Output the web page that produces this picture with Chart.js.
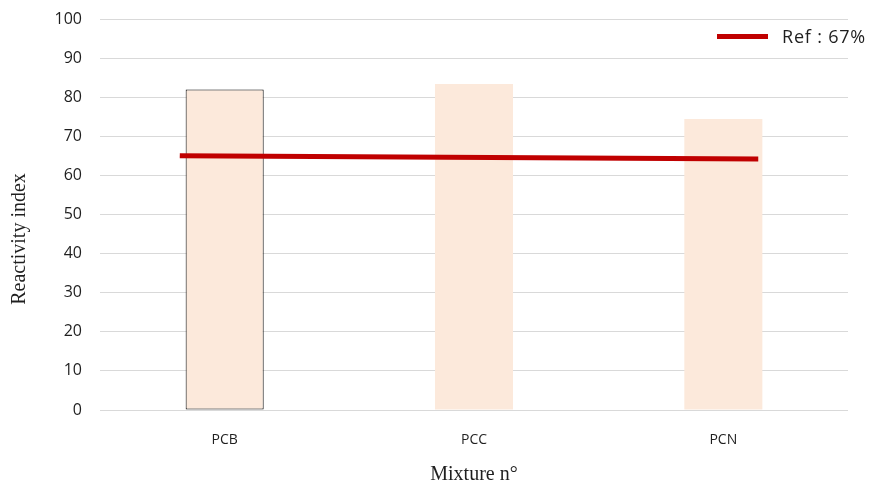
<!DOCTYPE html>
<html>
<head>
<meta charset="utf-8">
<script src="https://cdn.jsdelivr.net/npm/chart.js@4"></script>
<style>
  html, body { margin: 0; padding: 0; background: #fff; }
  #wrap { width: 879px; height: 488px; }
</style>
</head>
<body>
<div id="wrap"><canvas id="chart" width="879" height="488"></canvas></div>
<script>
// Reactivity index per mixture
const categories = ['PCB', 'PCC', 'PCN'];
const reactivity = [82.0, 83.4, 74.4];

// Reference line (positions along the category index, values on the y scale)
const refLabel = 'Ref : 67%';
const refX = [-0.18, 2.14];
const refY = [65.0, 64.2];

// Y axis range and title
const yMin = 0, yMax = 100, yStep = 10;
const yTitle = 'Reactivity index';
const xTitle = 'Mixture n°';

const barFill = '#FCE9DB';
const refColor = '#C00000';
const gridColor = '#D9D9D9';
const textColor = '#1F1F1F';
const sansFont = "'Open Sans', 'Liberation Sans', sans-serif";
const serifFont = "'Liberation Serif', 'DejaVu Serif', serif";

const refPoints = refX.map((x, i) => ({ x: x, y: refY[i] }));

// One-entry legend in the top right corner, plus the rotated y-axis title
// (set a little below the middle of the axis)
const annotations = {
  id: 'annotations',
  afterDraw(chart) {
    const ctx = chart.ctx;
    const ds = chart.data.datasets[1];
    ctx.save();
    ctx.strokeStyle = ds.borderColor;
    ctx.lineWidth = 5;
    ctx.beginPath();
    ctx.moveTo(717, 36.5);
    ctx.lineTo(768, 36.5);
    ctx.stroke();
    ctx.fillStyle = textColor;
    ctx.font = "18px " + sansFont;
    if ('letterSpacing' in ctx) ctx.letterSpacing = '0.8px';
    ctx.textBaseline = 'middle';
    ctx.textAlign = 'left';
    ctx.fillText(ds.label, 782, 38);
    ctx.restore();

    ctx.save();
    ctx.translate(20, 239);
    ctx.rotate(-Math.PI / 2);
    ctx.fillStyle = textColor;
    ctx.font = "20px " + serifFont;
    ctx.textAlign = 'center';
    ctx.textBaseline = 'middle';
    ctx.fillText(yTitle, 0, 0);
    ctx.restore();
  }
};

new Chart(document.getElementById('chart'), {
  data: {
    labels: categories,
    datasets: [
      {
        type: 'bar',
        label: yTitle,
        data: reactivity,
        backgroundColor: barFill,
        borderColor: categories.map((c, i) => i === 0 ? '#000000' : 'rgba(0,0,0,0)'),
        borderWidth: categories.map((c, i) => i === 0 ? 1 : 0),
        borderSkipped: false,
        grouped: false,
        barPercentage: 0.313,
        categoryPercentage: 1.0,
        xAxisID: 'x',
        yAxisID: 'y',
        order: 2
      },
      {
        type: 'line',
        label: refLabel,
        data: refPoints,
        borderColor: refColor,
        borderWidth: 5,
        pointRadius: 0,
        fill: false,
        xAxisID: 'x2',
        yAxisID: 'y',
        order: 1
      }
    ]
  },
  options: {
    responsive: false,
    animation: false,
    events: [],
    layout: { padding: { top: 19, right: 31, left: 0, bottom: 0 } },
    plugins: {
      legend: { display: false },
      tooltip: { enabled: false }
    },
    scales: {
      x: {
        type: 'category',
        offset: true,
        grid: { display: false, drawTicks: false },
        border: { display: false },
        ticks: { color: textColor, font: { family: sansFont, size: 14 }, padding: 22 },
        title: {
          display: true,
          text: xTitle,
          color: textColor,
          font: { family: serifFont, size: 20 },
          padding: { top: 0, bottom: 1 }
        },
        afterFit(scale) { scale.height = 78; }
      },
      x2: {
        type: 'linear',
        display: false,
        min: -0.5,
        max: 2.5
      },
      y: {
        min: yMin,
        max: yMax,
        ticks: { stepSize: yStep, color: textColor, font: { family: sansFont, size: 16 }, padding: 18 },
        grid: { color: gridColor, lineWidth: 1, drawTicks: false },
        border: { display: false },
        title: { display: false },
        afterFit(scale) {
          scale.width = 100;
          scale.paddingTop = 0;
          scale.paddingBottom = 0;
        }
      }
    }
  },
  plugins: [annotations]
});
</script>
</body>
</html>
